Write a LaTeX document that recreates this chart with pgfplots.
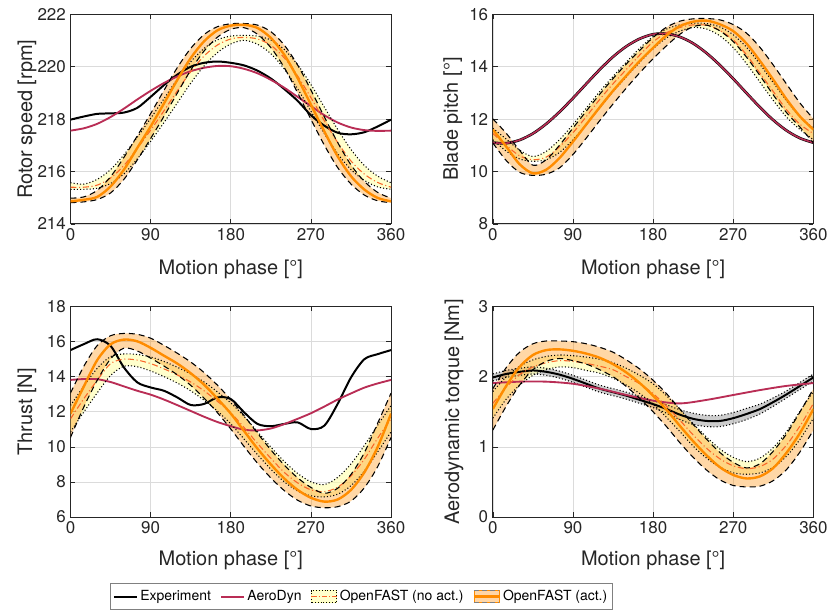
\documentclass[border=0pt]{standalone}
\usepackage{fontspec}
\setmainfont{TeX Gyre Heros}
\usepackage{pgfplots}
\usepackage{pgfplotstable}
\pgfplotsset{compat=1.18}
\usepgfplotslibrary{fillbetween}

\definecolor{aerored}{RGB}{185,45,85}
\definecolor{actorange}{RGB}{255,140,0}
\definecolor{noactline}{RGB}{250,100,40}
\definecolor{noactfill}{RGB}{255,255,170}
\definecolor{axgray}{RGB}{38,38,38}

% x: phase [deg]; ex: experiment; n*: OpenFAST no act. (mid/upper/lower); a*: OpenFAST act.
\pgfplotstableread{
x ex nm nu nl am au al
0 217.98 215.40 215.57 215.32 214.86 214.98 214.81
15 218.10 215.40 215.52 215.32 214.92 215.03 214.84
30 218.20 215.48 215.70 215.36 215.03 215.28 214.93
45 218.22 215.75 216.07 215.54 215.43 215.80 215.18
60 218.25 216.23 216.64 215.91 216.07 216.54 215.70
75 218.43 216.88 217.31 216.48 216.90 217.36 216.44
90 218.85 217.58 218.03 217.15 217.72 218.21 217.26
105 219.30 218.32 218.78 217.87 218.60 219.10 218.11
120 219.70 219.08 219.53 218.62 219.50 219.97 219.00
135 220.00 219.81 220.19 219.37 220.33 220.70 219.87
150 220.15 220.41 220.70 220.03 220.97 221.23 220.60
165 220.20 220.83 221.03 220.54 221.39 221.53 221.13
180 220.15 221.06 221.17 220.87 221.57 221.64 221.43
195 220.05 221.12 221.20 221.01 221.60 221.65 221.49
210 219.85 221.06 221.17 220.86 221.48 221.59 221.24
225 219.55 220.82 221.02 220.50 221.10 221.34 220.73
240 219.15 220.34 220.66 219.92 220.46 220.83 219.97
255 218.70 219.65 220.08 219.16 219.57 220.07 219.01
270 218.15 218.82 219.32 218.30 218.55 219.11 217.99
285 217.75 217.94 218.46 217.45 217.53 218.09 217.01
300 217.48 217.11 217.61 216.68 216.58 217.11 216.15
315 217.42 216.40 216.84 216.07 215.82 216.25 215.52
330 217.50 215.90 216.23 215.66 215.31 215.62 215.10
345 217.72 215.58 215.82 215.41 214.99 215.20 214.88
360 217.98 215.40 215.57 215.32 214.86 214.98 214.81
}\speed

\pgfplotstableread{
x ex nm nu nl am au al
0 11.10 11.45 11.65 11.21 11.60 12.01 11.09
15 11.08 11.00 11.24 10.78 10.95 11.46 10.42
30 11.20 10.60 10.82 10.48 10.28 10.81 9.97
45 11.45 10.45 10.57 10.39 9.93 10.24 9.85
60 11.82 10.55 10.77 10.45 10.07 10.45 9.90
75 12.28 10.95 11.22 10.73 10.52 11.01 10.14
90 12.80 11.48 11.79 11.21 11.14 11.66 10.65
105 13.35 12.10 12.42 11.79 11.80 12.31 11.28
120 13.89 12.75 13.05 12.43 12.45 12.95 11.94
135 14.38 13.35 13.63 13.05 13.08 13.55 12.58
150 14.78 13.90 14.18 13.62 13.66 14.11 13.19
165 15.07 14.45 14.71 14.17 14.22 14.63 13.77
180 15.24 14.95 15.15 14.69 14.72 15.12 14.31
195 15.26 15.30 15.44 15.10 15.20 15.51 14.80
210 15.14 15.50 15.60 15.36 15.55 15.74 15.24
225 14.89 15.60 15.66 15.50 15.72 15.83 15.53
240 14.52 15.58 15.65 15.44 15.76 15.84 15.59
255 14.06 15.38 15.52 15.18 15.62 15.79 15.37
270 13.54 15.02 15.22 14.73 15.36 15.61 14.96
285 12.99 14.45 14.74 14.11 14.88 15.28 14.36
300 12.45 13.75 14.09 13.41 14.22 14.74 13.66
315 11.96 13.05 13.39 12.71 13.50 14.06 12.92
330 11.56 12.35 12.69 12.07 12.75 13.33 12.24
345 11.27 11.80 12.08 11.60 12.10 12.61 11.69
360 11.10 11.45 11.65 11.21 11.60 12.01 11.09
}\pitch

\pgfplotstableread{
x ex nm nu nl am au al
0 15.52 11.60 12.36 10.86 11.90 13.07 10.54
15 15.86 12.75 13.47 11.99 13.45 14.60 12.28
30 16.14 13.80 14.48 13.08 14.95 15.78 13.80
45 15.76 14.75 15.15 14.07 15.85 16.34 15.02
60 14.53 15.00 15.30 14.60 16.12 16.47 15.63
75 13.68 14.95 15.27 14.57 16.02 16.42 15.47
90 13.39 14.75 15.13 14.33 15.65 16.20 15.06
105 13.20 14.45 14.87 14.01 15.20 15.79 14.61
120 12.82 14.10 14.54 13.64 14.75 15.34 14.11
135 12.39 13.70 14.16 13.20 14.20 14.84 13.51
150 12.45 13.20 13.70 12.66 13.55 14.24 12.78
165 12.82 12.60 13.14 12.04 12.75 13.52 11.95
180 12.73 11.95 12.51 11.31 11.90 12.70 11.02
195 11.97 11.10 11.74 10.44 10.90 11.78 10.02
210 11.31 10.20 10.86 9.56 9.90 10.78 9.07
225 11.18 9.35 9.99 8.73 9.00 9.83 8.23
240 11.31 8.55 9.17 8.01 8.20 8.97 7.51
255 11.40 7.95 8.49 7.49 7.55 8.24 6.96
270 11.02 7.55 8.01 7.21 7.10 7.69 6.63
285 11.21 7.45 7.85 7.15 6.88 7.35 6.53
300 12.45 7.70 8.26 7.30 7.00 7.64 6.59
315 13.96 8.35 9.03 7.79 7.55 8.43 6.91
330 15.00 9.30 10.08 8.62 8.55 9.67 7.67
345 15.29 10.50 11.24 9.72 10.00 11.36 8.88
360 15.52 11.60 12.36 10.86 11.90 13.07 10.54
}\thrust

\pgfplotstableread{
x ex eu el nm nu nl am au al
0 1.99 2.04 1.94 1.62 1.79 1.41 1.54 1.83 1.24
15 2.04 2.09 1.99 1.85 2.00 1.68 1.87 2.13 1.58
30 2.07 2.12 2.02 2.03 2.15 1.88 2.14 2.35 1.88
45 2.09 2.14 2.04 2.14 2.24 2.02 2.31 2.47 2.10
60 2.07 2.12 2.02 2.20 2.29 2.10 2.38 2.51 2.22
75 2.03 2.08 1.98 2.23 2.31 2.14 2.39 2.51 2.26
90 1.97 2.02 1.92 2.22 2.30 2.13 2.37 2.50 2.23
105 1.90 1.95 1.85 2.19 2.28 2.09 2.33 2.47 2.18
120 1.83 1.88 1.78 2.15 2.25 2.05 2.27 2.42 2.10
135 1.78 1.83 1.73 2.10 2.20 1.98 2.18 2.35 2.00
150 1.73 1.78 1.68 2.00 2.12 1.88 2.06 2.24 1.86
165 1.67 1.72 1.62 1.90 2.02 1.76 1.91 2.11 1.69
180 1.61 1.66 1.56 1.76 1.90 1.61 1.73 1.95 1.50
195 1.54 1.60 1.48 1.58 1.73 1.42 1.53 1.76 1.29
210 1.46 1.53 1.39 1.38 1.54 1.22 1.30 1.54 1.06
225 1.40 1.48 1.32 1.17 1.33 1.01 1.08 1.32 0.85
240 1.37 1.45 1.29 0.98 1.14 0.84 0.88 1.11 0.67
255 1.37 1.45 1.29 0.83 0.97 0.71 0.71 0.92 0.53
270 1.41 1.49 1.33 0.73 0.85 0.63 0.60 0.78 0.45
285 1.47 1.55 1.39 0.69 0.79 0.61 0.55 0.70 0.43
300 1.54 1.61 1.47 0.72 0.84 0.63 0.58 0.76 0.44
315 1.64 1.70 1.58 0.83 0.99 0.71 0.70 0.94 0.52
330 1.75 1.80 1.70 1.03 1.22 0.87 0.92 1.19 0.68
345 1.87 1.92 1.82 1.30 1.51 1.11 1.20 1.50 0.93
360 1.99 2.04 1.94 1.62 1.79 1.41 1.54 1.83 1.24
}\torque

\pgfplotsset{
  panel/.style={
    scale only axis, width=241pt, height=157.5pt,
    xmin=0, xmax=360, xtick={0,90,180,270,360},
    grid=major, grid style={black!14, line width=0.5pt},
    axis line style={axgray, line width=0.6pt},
    tick style={axgray, line width=0.5pt}, major tick length=3.5pt, tick align=inside,
    ticklabel style={font=\fontsize{12.75}{14}\selectfont, text=axgray},
    label style={font=\fontsize{15}{17}\selectfont, text=axgray},
    /pgf/number format/assume math mode=true,
    xlabel={Motion phase [°]},
    xlabel style={at={(axis description cs:0.5,-0.215)}, anchor=center},
  },
  expline/.style={black, line width=1.5pt, smooth},
  aeroline/.style={aerored, line width=1.4pt, smooth},
  noactmid/.style={noactline, line width=0.8pt, dash pattern=on 4.5pt off 2pt on 0.8pt off 2pt, smooth},
  noactbnd/.style={black, line width=0.8pt, dash pattern=on 0.8pt off 1.6pt, smooth},
  actmid/.style={actorange, line width=1.8pt, smooth},
  actbnd/.style={black, line width=0.8pt, dash pattern=on 4.5pt off 3pt, smooth},
}

\newcommand\openfast[1]{%
  \addplot[name path=NU, draw=none, smooth, forget plot] table[x=x,y=nu]{#1};
  \addplot[name path=NL, draw=none, smooth, forget plot] table[x=x,y=nl]{#1};
  \addplot[fill=noactfill, fill opacity=0.6, draw=none, forget plot] fill between[of=NU and NL];
  \addplot[noactbnd, forget plot] table[x=x,y=nu]{#1};
  \addplot[noactbnd, forget plot] table[x=x,y=nl]{#1};
  \addplot[noactmid, forget plot] table[x=x,y=nm]{#1};
  \addplot[name path=AU, draw=none, smooth, forget plot] table[x=x,y=au]{#1};
  \addplot[name path=AL, draw=none, smooth, forget plot] table[x=x,y=al]{#1};
  \addplot[fill=actorange, fill opacity=0.35, draw=none, forget plot] fill between[of=AU and AL];
  \addplot[actbnd, forget plot] table[x=x,y=au]{#1};
  \addplot[actbnd, forget plot] table[x=x,y=al]{#1};
  \addplot[actmid, forget plot] table[x=x,y=am]{#1};
}

\begin{document}
\begin{tikzpicture}

% rotor speed
\begin{axis}[panel, at={(53pt,292.2pt)}, anchor=south west,
  ymin=214, ymax=222, ytick={214,216,218,220,222},
  ylabel={Rotor speed [rpm]},
  ylabel style={at={(axis description cs:-0.136,0.5)}, anchor=center}]
\addplot[expline, forget plot] table[x=x,y=ex]{\speed};
\addplot[aeroline, forget plot] coordinates {(0,217.56) (15,217.65) (30,217.82) (45,218.08) (60,218.4) (75,218.75) (90,219.08) (105,219.38) (120,219.63) (135,219.83) (150,219.96) (165,220.03) (180,220.02) (195,219.92) (210,219.75) (225,219.5) (240,219.2) (255,218.85) (270,218.5) (285,218.15) (300,217.87) (315,217.68) (330,217.58) (345,217.55) (360,217.56)};
\openfast{\speed}
\end{axis}

% blade pitch
\begin{axis}[panel, at={(370.5pt,292.2pt)}, anchor=south west,
  ymin=8, ymax=16, ytick={8,10,12,14,16},
  ylabel={Blade pitch [°]},
  ylabel style={at={(axis description cs:-0.125,0.5)}, anchor=center}]
\addplot[black, line width=2pt, smooth, forget plot] table[x=x,y=ex]{\pitch};
\addplot[aerored, line width=1.2pt, smooth, forget plot] table[x=x,y=ex]{\pitch};
\openfast{\pitch}
\end{axis}

% thrust
\begin{axis}[panel, at={(53pt,71.8pt)}, anchor=south west, height=158.2pt,
  ymin=6, ymax=18, ytick={6,8,...,18},
  ylabel={Thrust [N]},
  ylabel style={at={(axis description cs:-0.136,0.5)}, anchor=center},
  xlabel style={at={(axis description cs:0.5,-0.205)}, anchor=center},
  legend style={at={(0.9075,-0.378)}, anchor=center, legend columns=4,
    draw=gray, line width=0.6pt, font=\fontsize{10.5}{12}\selectfont,
    inner xsep=2pt, inner ysep=3pt,
    /tikz/every even column/.append style={column sep=5pt}}]
\addplot[expline, forget plot] table[x=x,y=ex]{\thrust};
\addplot[aeroline, forget plot] coordinates {(0,13.82) (15,13.87) (30,13.86) (45,13.7) (60,13.45) (75,13.2) (90,12.98) (105,12.7) (120,12.38) (135,12.05) (150,11.72) (165,11.42) (180,11.18) (195,10.98) (210,10.94) (225,11.05) (240,11.3) (255,11.6) (270,11.92) (285,12.3) (300,12.7) (315,13.05) (330,13.38) (345,13.62) (360,13.82)};
\openfast{\thrust}
\addlegendimage{black, line width=1.5pt}
\addlegendentry{Experiment}
\addlegendimage{aerored, line width=1.4pt}
\addlegendentry{AeroDyn}
\addlegendimage{legend image code/.code={
  \fill[noactfill, fill opacity=0.6] (0pt,-4.5pt) rectangle (19pt,4.5pt);
  \draw[black, line width=0.7pt, dash pattern=on 0.7pt off 1.4pt] (0pt,-4.5pt) rectangle (19pt,4.5pt);
  \draw[noactline, line width=0.8pt, dash pattern=on 4pt off 1.5pt on 0.8pt off 1.5pt] (0pt,0pt) -- (19pt,0pt);}}
\addlegendentry{OpenFAST (no act.)}
\addlegendimage{legend image code/.code={
  \fill[actorange, fill opacity=0.35] (0pt,-4.5pt) rectangle (19pt,4.5pt);
  \draw[gray, line width=0.8pt, dash pattern=on 4pt off 2pt] (0pt,-4.5pt) -- (19pt,-4.5pt) (0pt,4.5pt) -- (19pt,4.5pt);
  \draw[actorange, line width=1.8pt] (0pt,0pt) -- (19pt,0pt);}}
\addlegendentry{OpenFAST (act.)}
\end{axis}

% aerodynamic torque
\begin{axis}[panel, at={(370.5pt,71.8pt)}, anchor=south west, height=158.2pt,
  ymin=0, ymax=3, ytick={0,1,2,3},
  ylabel={Aerodynamic torque [Nm]},
  ylabel style={at={(axis description cs:-0.121,0.5)}, anchor=center},
  xlabel style={at={(axis description cs:0.5,-0.205)}, anchor=center}]
\addplot[name path=EU, draw=none, smooth, forget plot] table[x=x,y=eu]{\torque};
\addplot[name path=EL, draw=none, smooth, forget plot] table[x=x,y=el]{\torque};
\addplot[fill=black, fill opacity=0.2, draw=none, forget plot] fill between[of=EU and EL];
\addplot[noactbnd, forget plot] table[x=x,y=eu]{\torque};
\addplot[noactbnd, forget plot] table[x=x,y=el]{\torque};
\addplot[expline, forget plot] table[x=x,y=ex]{\torque};
\addplot[aeroline, forget plot] coordinates {(0,1.91) (30,1.93) (60,1.93) (90,1.9) (120,1.83) (150,1.74) (180,1.66) (210,1.62) (240,1.67) (270,1.74) (300,1.81) (330,1.87) (360,1.91)};
\openfast{\torque}
\end{axis}
\path (0pt,0pt) rectangle (624pt,460.5pt);
\end{tikzpicture}
\end{document}
